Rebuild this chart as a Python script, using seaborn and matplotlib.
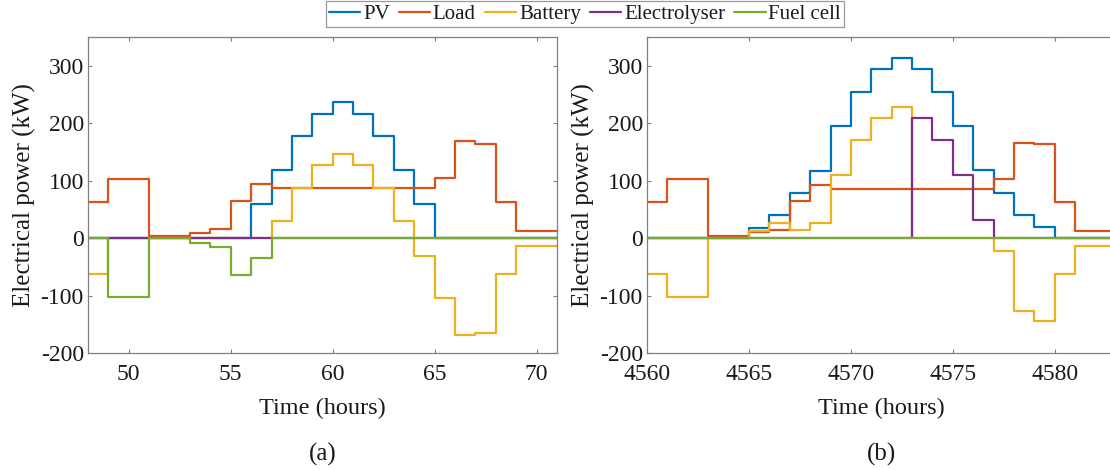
import numpy as np
import pandas as pd
import seaborn as sns
import matplotlib
matplotlib.use("Agg")
import matplotlib.pyplot as plt
from matplotlib.lines import Line2D

# hourly values (kW), each value holds from hour h to h+1
hours_a = list(range(48, 71))
pv_a = [0, 0, 0, 0, 0, 0, 0, 0, 60, 118, 177, 216, 236, 216, 177, 118, 60, 0, 0, 0, 0, 0, 0]
load_a = [63, 102, 102, 3, 3, 9, 15, 64, 95, 88, 88, 88, 88, 88, 88, 88, 88, 105, 169, 164, 63, 13, 13]
battery_a = [-63, 0, 0, 0, 0, 0, 0, 0, 0, 29, 88, 128, 147, 128, 88, 29, -31, -105, -169, -165, -63, -13, -13]
electrolyser_a = [0] * 23
fuelcell_a = [0, -103, -103, 0, 0, -8, -15, -65, -35, 0, 0, 0, 0, 0, 0, 0, 0, 0, 0, 0, 0, 0, 0]

hours_b = list(range(4560, 4583))
pv_b = [0, 0, 0, 0, 0, 18, 40, 78, 117, 195, 255, 294, 314, 294, 255, 195, 118, 79, 40, 20, 0, 0, 0]
load_b = [63, 102, 102, 3, 3, 10, 14, 65, 92, 86, 86, 86, 86, 86, 86, 86, 86, 102, 166, 163, 63, 13, 13]
battery_b = [-63, -103, -103, 0, 0, 12, 26, 14, 27, 110, 170, 209, 228, 0, 0, 0, 0, -22, -127, -144, -63, -13, -13]
electrolyser_b = [0, 0, 0, 0, 0, 0, 0, 0, 0, 0, 0, 0, 0, 209, 170, 110, 32, 0, 0, 0, 0, 0, 0]
fuelcell_b = [0] * 23

sources = ["PV", "Load", "Battery", "Electrolyser", "Fuel cell"]
colors = ["#0072BD", "#D95319", "#EDB120", "#7E2F8E", "#77AC30"]
yticks = [-200, -100, 0, 100, 200, 300]
xticks_a = [50, 55, 60, 65, 70]
xticks_b = [4560, 4565, 4570, 4575, 4580]


def to_long(hours, series):
    rows = []
    for name, vals in zip(sources, series):
        # repeat last value one hour later so the final step is drawn
        hh = list(hours) + [hours[-1] + 1]
        vv = list(vals) + [vals[-1]]
        for h, v in zip(hh, vv):
            rows.append({"hour": h, "power": v, "source": name})
    return pd.DataFrame(rows)


df_a = to_long(hours_a, [pv_a, load_a, battery_a, electrolyser_a, fuelcell_a])
df_b = to_long(hours_b, [pv_b, load_b, battery_b, electrolyser_b, fuelcell_b])

sns.set_style("ticks")
plt.rcParams["font.family"] = "serif"
plt.rcParams["font.serif"] = ["Liberation Serif", "DejaVu Serif"]
plt.rcParams["axes.unicode_minus"] = False
plt.rcParams["xtick.direction"] = "in"
plt.rcParams["ytick.direction"] = "in"
plt.rcParams["xtick.top"] = True
plt.rcParams["ytick.right"] = True

fig = plt.figure(figsize=(11.1, 4.7), dpi=100)
ax1 = fig.add_axes([88 / 1110, 1 - 353 / 470, 469 / 1110, 316 / 470])
ax2 = fig.add_axes([647 / 1110, 1 - 353 / 470, 469 / 1110, 316 / 470])

palette = dict(zip(sources, colors))
for ax, df, xt, lab in [(ax1, df_a, xticks_a, "(a)"), (ax2, df_b, xticks_b, "(b)")]:
    sns.lineplot(data=df, x="hour", y="power", hue="source", hue_order=sources,
                 palette=palette, drawstyle="steps-post", estimator=None,
                 linewidth=1.6, legend=False, ax=ax)
    ax.set_xlim(df["hour"].min(), df["hour"].max())
    ax.set_ylim(-200, 350)
    ax.set_xticks(xt)
    ax.set_yticks(yticks)
    ax.tick_params(labelsize=17, colors="#808080", labelcolor="#1a1a1a", length=3, width=0.8)
    ax.tick_params(axis="y", pad=3)
    ax.tick_params(axis="x", pad=8)
    for s in ax.spines.values():
        s.set_visible(True)
        s.set_color("#808080")
        s.set_linewidth(0.9)
    ax.set_xlabel("Time (hours)", fontsize=17.5, labelpad=9, color="#1a1a1a")
    ax.set_ylabel("Electrical power (kW)", fontsize=18, labelpad=3, color="#1a1a1a")
    ax.text(0.5, -0.32, lab, transform=ax.transAxes, ha="center", va="center",
            fontsize=18, color="#1a1a1a")

handles = [Line2D([], [], color=c, lw=1.6) for c in colors]
leg = fig.legend(handles, sources, loc="upper center", bbox_to_anchor=(0.527, 0.997),
                 ncol=5, fontsize=15, frameon=True, fancybox=False, handlelength=1.5,
                 handletextpad=0.12, columnspacing=0.45, borderpad=0.15, borderaxespad=0.0)
leg.get_frame().set_edgecolor("#808080")
leg.get_frame().set_linewidth(0.9)
for t in leg.get_texts():
    t.set_color("#1a1a1a")

fig.savefig("out.png", dpi=100)
